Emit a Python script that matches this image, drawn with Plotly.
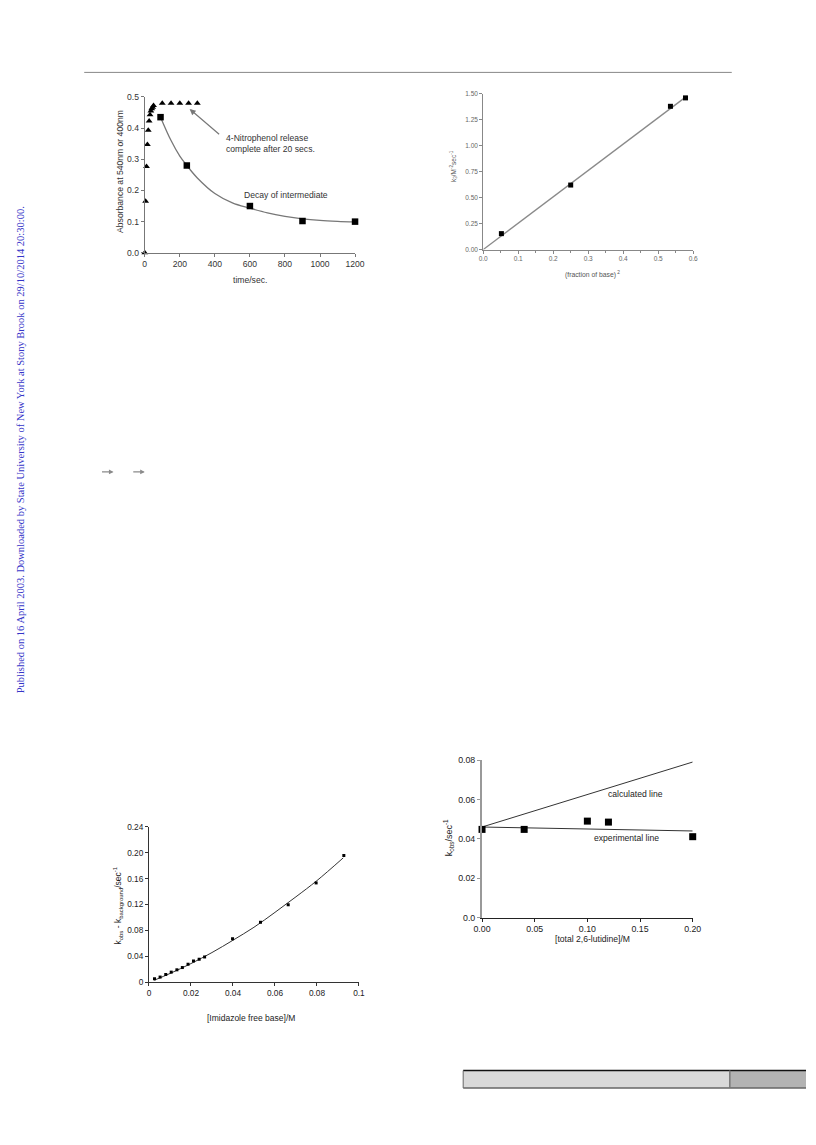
import plotly.graph_objects as go

W, H = 816, 1145

# ---------------- data ----------------
# Chart 1: absorbance vs time
t_release = [0, 5, 10, 15, 20, 25, 30, 35, 40, 45, 50, 100, 150, 200, 250, 300]
a_release = [0.0, 0.165, 0.277, 0.347, 0.393, 0.423, 0.443, 0.455, 0.462, 0.467, 0.472,
             0.48, 0.48, 0.48, 0.48, 0.48]
t_decay = [90, 240, 600, 900, 1200]
a_decay = [0.435, 0.28, 0.15, 0.102, 0.1]
t_fit = [90, 150, 200, 240, 300, 400, 500, 600, 700, 800, 900, 1000, 1100, 1200]
a_fit = [0.435, 0.36, 0.31, 0.28, 0.24, 0.19, 0.16, 0.143, 0.128, 0.117, 0.109, 0.104, 0.101, 0.099]
x1_ticks = [0, 200, 400, 600, 800, 1000, 1200]
y1_ticks = [0.0, 0.1, 0.2, 0.3, 0.4, 0.5]
y1_text = ["0.0", "0.1", "0.2", "0.3", "0.4", "0.5"]

# Chart 2: k3 vs (fraction of base)^2
fb2 = [0.052, 0.25, 0.535, 0.578]
k3 = [0.153, 0.62, 1.377, 1.458]
fb2_line = [0.0, 0.582]
k3_line = [0.0, 1.475]
x2_ticks = [0.0, 0.1, 0.2, 0.3, 0.4, 0.5, 0.6]
x2_text = ["0.0", "0.1", "0.2", "0.3", "0.4", "0.5", "0.6"]
y2_ticks = [0.0, 0.25, 0.5, 0.75, 1.0, 1.25, 1.5]
y2_text = ["0.00", "0.25", "0.50", "0.75", "1.00", "1.25", "1.50"]

# Chart 3: kobs - kbackground vs imidazole free base
imid = [0.00265, 0.0053, 0.0080, 0.0106, 0.0133, 0.0159, 0.0186, 0.0212, 0.0239, 0.0265,
        0.0398, 0.0531, 0.0663, 0.0796, 0.0928]
kdiff = [0.0056, 0.0082, 0.0122, 0.0158, 0.0194, 0.0229, 0.028, 0.033, 0.0357, 0.0392,
         0.0673, 0.0927, 0.1197, 0.1534, 0.1957]
imid_fit = [0.0025, 0.01, 0.02, 0.03, 0.04, 0.05, 0.06, 0.07, 0.08, 0.0925]
kdiff_fit = [0.0033, 0.0137, 0.029, 0.046, 0.065, 0.085, 0.108, 0.132, 0.157, 0.192]
x3_ticks = [0, 0.02, 0.04, 0.06, 0.08, 0.1]
x3_text = ["0", "0.02", "0.04", "0.06", "0.08", "0.1"]
y3_ticks = [0, 0.04, 0.08, 0.12, 0.16, 0.2, 0.24]
y3_text = ["0", "0.04", "0.08", "0.12", "0.16", "0.20", "0.24"]

# Chart 4: kobs vs total 2,6-lutidine
lut = [0.0, 0.04, 0.10, 0.12, 0.20]
kobs = [0.0448, 0.0448, 0.049, 0.0485, 0.0411]
lut_line = [0.0, 0.20]
calc_line = [0.046, 0.079]
exp_line = [0.046, 0.044]
x4_ticks = [0, 0.05, 0.10, 0.15, 0.20]
x4_text = ["0.00", "0.05", "0.10", "0.15", "0.20"]
y4_ticks = [0, 0.02, 0.04, 0.06, 0.08]
y4_text = ["0.0", "0.02", "0.04", "0.06", "0.08"]

# ---------------- layout helpers (pixel -> paper) ----------------
def px(x):
    return x / W


def py(y):
    return 1 - y / H


FONT = "Liberation Sans, Arial, sans-serif"

fig = go.Figure()

# Chart 1 traces
fig.add_trace(go.Scatter(x=t_fit, y=a_fit, mode="lines", line=dict(color="#777777", width=1.3, shape="spline"),
                         xaxis="x", yaxis="y", hoverinfo="skip"))
fig.add_trace(go.Scatter(x=t_release, y=a_release, mode="markers",
                         marker=dict(symbol="triangle-up", size=6, color="black"),
                         xaxis="x", yaxis="y", cliponaxis=False))
fig.add_trace(go.Scatter(x=t_decay, y=a_decay, mode="markers",
                         marker=dict(symbol="square", size=6.5, color="black"),
                         xaxis="x", yaxis="y", cliponaxis=False))

# Chart 2 traces
fig.add_trace(go.Scatter(x=fb2_line, y=k3_line, mode="lines", line=dict(color="#8a8a8a", width=1.3),
                         xaxis="x2", yaxis="y2", cliponaxis=False))
fig.add_trace(go.Scatter(x=fb2, y=k3, mode="markers", marker=dict(symbol="square", size=5, color="black"),
                         xaxis="x2", yaxis="y2", cliponaxis=False))

# Chart 3 traces
fig.add_trace(go.Scatter(x=imid_fit, y=kdiff_fit, mode="lines", line=dict(color="#333333", width=1, shape="spline"),
                         xaxis="x3", yaxis="y3"))
fig.add_trace(go.Scatter(x=imid, y=kdiff, mode="markers", marker=dict(symbol="square", size=3, color="black"),
                         xaxis="x3", yaxis="y3", cliponaxis=False))

# Chart 4 traces
fig.add_trace(go.Scatter(x=lut_line, y=calc_line, mode="lines", line=dict(color="#333333", width=1),
                         xaxis="x4", yaxis="y4", cliponaxis=False))
fig.add_trace(go.Scatter(x=lut_line, y=exp_line, mode="lines", line=dict(color="#333333", width=1),
                         xaxis="x4", yaxis="y4", cliponaxis=False))
fig.add_trace(go.Scatter(x=lut, y=kobs, mode="markers", marker=dict(symbol="square", size=7, color="black"),
                         xaxis="x4", yaxis="y4", cliponaxis=False))


def axis(domain, rng, tickvals, ticktext, anchor, color, linecolor, size, linewidth=1, minor=None):
    d = dict(domain=domain, range=rng, tickvals=tickvals, ticktext=ticktext, anchor=anchor,
             showgrid=False, zeroline=False, showline=True, linecolor=linecolor, linewidth=linewidth,
             ticks="outside", ticklen=3, tickcolor=linecolor, tickwidth=1,
             tickfont=dict(family=FONT, size=size, color=color))
    if minor:
        d["minor"] = minor
    return d


layout = dict(
    width=W, height=H, margin=dict(l=0, r=0, t=0, b=0),
    paper_bgcolor="white", plot_bgcolor="white", showlegend=False,
    xaxis=axis([px(139), px(354.3)], [0, 1200], x1_ticks, [str(v) for v in x1_ticks], "y", "#333333", "#777777", 8.6),
    yaxis=axis([py(250), py(92.7)], [0, 0.5], y1_ticks, y1_text, "x", "#333333", "#777777", 8.6),
    xaxis2=axis([px(485.5), px(700.5)], [0, 0.6], x2_ticks, x2_text, "y2", "#666666", "#888888", 6.5,
                minor=dict(ticks="outside", ticklen=2, dtick=0.05, tickcolor="#888888")),
    yaxis2=axis([py(246.7), py(89.3)], [0, 1.5], y2_ticks, y2_text, "x2", "#666666", "#888888", 6.5),
    xaxis3=axis([px(143.3), px(358.3)], [0, 0.1], x3_ticks, x3_text, "y3", "#222222", "#333333", 8.3),
    yaxis3=axis([py(986), py(829)], [0, 0.24], y3_ticks, y3_text, "x3", "#222222", "#333333", 8.3),
    xaxis4=axis([px(484.3), px(700)], [0, 0.2], x4_ticks, x4_text, "y4", "#222222", "#222222", 8.8),
    yaxis4=axis([py(920.7), py(761.7)], [0, 0.08], y4_ticks, y4_text, "x4", "#222222", "#999999", 8.8, linewidth=2),
)
fig.update_layout(**layout)

ann = []


def pap(text, x, y, size, color="#222222", angle=0, xanchor="center", family=FONT, align="center"):
    ann.append(dict(text=text, x=px(x), y=py(y), xref="paper", yref="paper", showarrow=False,
                    textangle=angle, xanchor=xanchor, yanchor="middle", align=align,
                    font=dict(family=family, size=size, color=color)))


# Chart 1 labels
pap("Absorbance at 540nm or 400nm", 113, 168, 8.6, "#333333", -90)
pap("time/sec.", 247, 277, 8.6, "#333333")
ann.append(dict(x=256, y=0.461, xref="x", yref="y", ax=433, ay=0.376, axref="x", ayref="y",
                showarrow=True, arrowhead=2, arrowsize=1, arrowwidth=1.2, arrowcolor="#777777", text=""))
ann.append(dict(x=455, y=0.35, xref="x", yref="y", showarrow=False, xanchor="left", align="left",
                text="4-Nitrophenol release<br>complete after 20 secs.",
                font=dict(family=FONT, size=8.6, color="#333333")))
ann.append(dict(x=557, y=0.185, xref="x", yref="y", showarrow=False, xanchor="left",
                text="Decay of intermediate", font=dict(family=FONT, size=8.6, color="#333333")))

# Chart 2 labels
pap("k<sub>3</sub>/M<sup>-2</sup>sec<sup>-1</sup>", 455, 162, 6.5, "#555555", -90)
pap("(fraction of base)<sup> 2</sup>", 597, 272, 6.8, "#555555")

# Chart 3 labels
pap("k<sub>obs</sub> - k<sub>background</sub>/sec<sup>-1</sup>", 111, 908, 8.5, "#222222", -90)
pap("[Imidazole free base]/M", 248, 1022, 8.5, "#222222")

# Chart 4 labels
pap("k<sub>obs</sub>/sec<sup>-1</sup>", 450, 840, 9, "#222222", -90)
pap("[total 2,6-lutidine]/M", 597, 942, 8.6, "#222222")
ann.append(dict(x=0.118, y=0.0629, xref="x4", yref="y4", showarrow=False, xanchor="left",
                text="calculated line", font=dict(family=FONT, size=8.6, color="#222222")))
ann.append(dict(x=0.104, y=0.0403, xref="x4", yref="y4", showarrow=False, xanchor="left",
                text="experimental line", font=dict(family=FONT, size=8.6, color="#222222")))

# Page decorations
pap("Published on 16 April 2003. Downloaded by State University of New York at Stony Brook on 29/10/2014 20:30:00.",
    12, 448.5, 10.5, "#3434c8", -90, family="Liberation Serif, Times New Roman, serif")
for xh in (107, 139):
    ann.append(dict(x=px(xh), y=py(471), xref="paper", yref="paper", ax=-13, ay=0, text="",
                    showarrow=True, arrowhead=2, arrowsize=0.7, arrowwidth=1.3, arrowcolor="#8a8a8a"))

fig.update_layout(annotations=ann)

shapes = [
    dict(type="line", xref="paper", yref="paper", x0=px(77), x1=px(740), y0=py(68), y1=py(68),
         line=dict(color="#888888", width=1)),
    dict(type="rect", xref="paper", yref="paper", x0=px(465), x1=px(738), y0=py(1092.5), y1=py(1075),
         fillcolor="#d9d9d9", line=dict(width=0)),
    dict(type="rect", xref="paper", yref="paper", x0=px(738), x1=px(816), y0=py(1092.5), y1=py(1075),
         fillcolor="#b3b3b3", line=dict(width=0)),
    dict(type="line", xref="paper", yref="paper", x0=px(465), x1=px(816), y0=py(1075), y1=py(1075),
         line=dict(color="#111111", width=1.5)),
    dict(type="line", xref="paper", yref="paper", x0=px(465), x1=px(816), y0=py(1092.5), y1=py(1092.5),
         line=dict(color="#666666", width=1.5)),
    dict(type="line", xref="paper", yref="paper", x0=px(465), x1=px(465), y0=py(1092.5), y1=py(1075),
         line=dict(color="#666666", width=1)),
    dict(type="line", xref="paper", yref="paper", x0=px(738), x1=px(738), y0=py(1092.5), y1=py(1075),
         line=dict(color="#777777", width=1.5)),
]
fig.update_layout(shapes=shapes)

# remove the default page margin so the figure sits at the window origin
page_js = ("document.documentElement.style.margin='0';document.body.style.margin='0';"
           "document.body.style.padding='0';document.documentElement.style.overflow='hidden';"
           "document.body.style.overflow='hidden';")

fig.write_html("out.html", config={"displayModeBar": False}, post_script=page_js)
